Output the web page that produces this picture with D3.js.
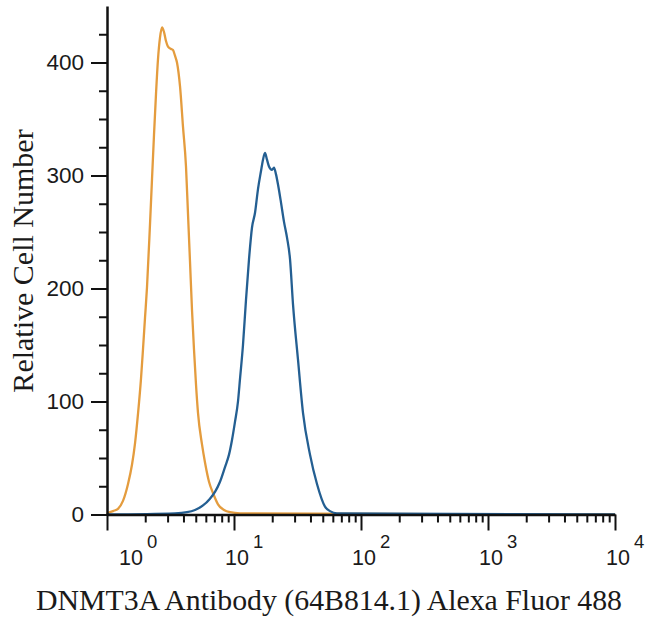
<!DOCTYPE html>
<html>
<head>
<meta charset="utf-8">
<script src="https://cdn.jsdelivr.net/npm/d3@7"></script>
<style>
  body { margin: 0; background: #fff; }
  svg { display: block; }
</style>
</head>
<body>
<div id="chart"></div>
<script>
// isotype control (orange) - fluorescence intensity and cell count
var controlIntensity = [1.02, 1.115, 1.22, 1.336, 1.464, 1.573, 1.662, 1.754, 1.852, 1.92, 1.992, 2.065,
  2.181, 2.262, 2.345, 2.431, 2.521, 2.614, 2.711, 2.811, 2.914, 3.022, 3.191, 3.309, 3.431, 3.557,
  3.757, 3.967, 4.188, 4.343, 4.503, 4.67, 4.842, 5.021, 5.206, 5.598, 5.911, 6.356, 6.833, 7.482,
  8.343, 9.301, 11.15];
var controlCount = [1, 3, 5, 12, 27, 44, 63, 89, 120, 146, 174, 201,
  257, 297, 336, 372, 403, 422, 431, 427, 419, 414, 412, 411, 406, 400,
  379, 343, 308, 266, 224, 181, 146, 115, 90, 62, 46, 29, 19, 9,
  4, 2, 1];

// DNMT3A stained (blue)
var stainIntensity = [3.431, 4.265, 4.931, 5.7, 6.471, 7.085, 7.759, 8.495, 9.134, 9.645, 10.18, 10.75,
  11.15, 11.77, 12.43, 13.13, 13.86, 14.64, 15.45, 16.32, 16.92, 17.54, 18.19, 18.86, 19.92, 20.65,
  21.42, 22.21, 23.45, 24.76, 26.15, 27.61, 29.15, 31.91, 34.94, 39.67, 45.03, 52.06, 57.0, 64.71];
var stainCount = [1, 2, 4, 8, 14, 20, 29, 42, 53, 66, 82, 100,
  120, 150, 190, 226, 254, 267, 288, 304, 314, 320, 314, 308, 305, 307,
  301, 292, 276, 259, 245, 226, 186, 137, 90, 53, 27, 7, 3, 1];

var yMajorTicks = [0, 100, 200, 300, 400];
var xDecades = [1, 10, 100, 1000, 10000];
var xExponents = ['0', '1', '2', '3', '4'];

var width = 650,
    height = 624;

var svg = d3.select('#chart')
  .append('svg')
    .attr('width', width)
    .attr('height', height);

var x = d3.scaleLog()
  .domain([1, 10000])
  .range([107, 615]);

var y = d3.scaleLinear()
  .domain([0, 450])
  .range([514.5, 6]);

// build a series with zero runs out to both ends of the axis
function series(xs, ys) {
  var pts = xs.map(function(v, i) { return [v, ys[i]]; });
  pts.unshift([1, 0]);
  pts.push([10000, 0]);
  return pts;
}

var line = d3.line()
  .x(function(d) { return x(d[0]); })
  .y(function(d) { return y(d[1]); })
  .curve(d3.curveMonotoneX);

svg.append('path')
  .datum(series(controlIntensity, controlCount))
  .attr('d', line)
  .attr('fill', 'none')
  .attr('stroke', '#e49c3e')
  .attr('stroke-width', 2.3);

svg.append('path')
  .datum(series(stainIntensity, stainCount))
  .attr('d', line)
  .attr('fill', 'none')
  .attr('stroke', '#245f92')
  .attr('stroke-width', 2.3);

// y axis: minor ticks every 25, majors every 100
var yMinor = d3.range(0, 450, 25);
var yAxisMinor = svg.append('g')
  .attr('transform', 'translate(107,0)')
  .call(d3.axisLeft(y).tickValues(yMinor).tickSize(8).tickFormat(''));
yAxisMinor.select('.domain').remove();

var yAxis = svg.append('g')
  .attr('transform', 'translate(107,0)')
  .call(d3.axisLeft(y).tickValues(yMajorTicks).tickSize(16).tickSizeOuter(0).tickPadding(7));

yAxis.selectAll('text')
  .style('font-family', '"Liberation Sans", Arial, sans-serif')
  .style('font-size', '22.5px')
  .attr('fill', '#1a1a1a');

// x axis: minor ticks at 2..9 per decade
var xMinor = [];
xDecades.slice(0, 4).forEach(function(dec) {
  for (var k = 2; k <= 9; k++) xMinor.push(dec * k);
});

var xAxisMinor = svg.append('g')
  .attr('transform', 'translate(0,' + y(0) + ')')
  .call(d3.axisBottom(x).tickValues(xMinor).tickSize(8).tickFormat(''));
xAxisMinor.select('.domain').remove();

var xAxis = svg.append('g')
  .attr('transform', 'translate(0,' + y(0) + ')')
  .call(d3.axisBottom(x).tickValues(xDecades).tickSize(16).tickSizeOuter(0).tickFormat(''));

svg.selectAll('.domain')
  .attr('stroke-width', 2.5)
  .attr('stroke', '#111');
svg.selectAll('.tick line')
  .attr('stroke-width', 2)
  .attr('stroke', '#111');

// decade labels with superscript exponent
var xLabels = svg.append('g')
  .selectAll('text')
  .data(xDecades)
  .enter()
  .append('text')
    .attr('x', function(d, i) { return x(d) + (i === 0 ? 24 : 3) - 12; })
    .attr('y', 565)
    .style('font-family', '"Liberation Sans", Arial, sans-serif')
    .style('font-size', '21.5px')
    .attr('fill', '#1a1a1a');

xLabels.append('tspan').text('10');
xLabels.append('tspan')
  .attr('dx', 4)
  .attr('dy', -17)
  .style('font-size', '18.5px')
  .text(function(d, i) { return xExponents[i]; });

// axis titles
svg.append('text')
  .attr('x', 329)
  .attr('y', 610)
  .attr('text-anchor', 'middle')
  .style('font-family', '"Liberation Serif", "Times New Roman", serif')
  .style('font-size', '29.8px')
  .attr('fill', '#1a1a1a')
  .text('DNMT3A Antibody (64B814.1) Alexa Fluor 488');

svg.append('text')
  .attr('transform', 'translate(33,261) rotate(-90)')
  .attr('text-anchor', 'middle')
  .style('font-family', '"Liberation Serif", "Times New Roman", serif')
  .style('font-size', '30px')
  .attr('fill', '#1a1a1a')
  .text('Relative Cell Number');
</script>
</body>
</html>
